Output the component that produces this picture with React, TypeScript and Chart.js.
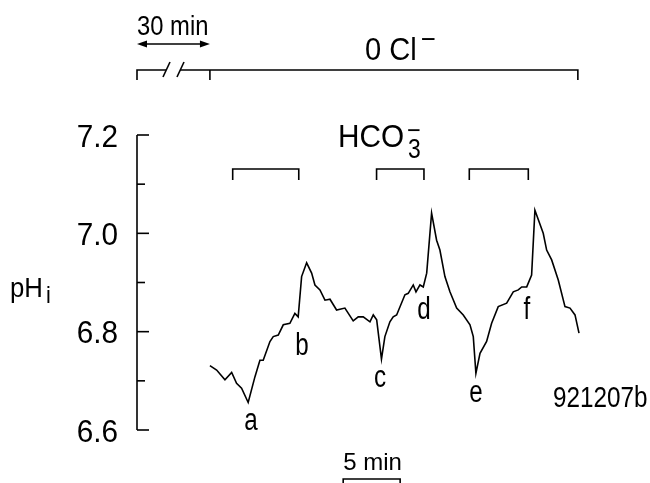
import React, { useEffect, useRef } from "react";
import { Chart, registerables } from "chart.js";

Chart.register(...registerables);

// time (min, from start of trace) and intracellular pH
const timeMin = [
  0, 0.59, 1.32, 1.91, 2.34, 2.78, 3.36, 3.95, 4.39, 4.68, 5.27, 5.56, 6.0, 6.44, 7.02, 7.46, 7.75,
  8.05, 8.49, 8.93, 9.22, 9.66, 10.1, 10.54, 11.12, 11.85, 12.58, 13.02, 13.46, 14.05, 14.34, 14.64,
  15.06, 15.36, 15.8, 16.09, 16.39, 17.12, 17.41, 17.85, 18.09, 18.44, 18.73, 19.03, 19.46, 19.9,
  20.19, 20.63, 21.07, 21.66, 22.24, 22.83, 23.12, 23.35, 23.71, 24.29, 24.73, 25.31, 26.05, 26.63,
  27.07, 27.37, 27.81, 28.24, 28.53, 29.26, 29.56, 30.0, 30.58, 31.17, 31.61, 32.05, 32.4,
];
const phValues = [
  6.731, 6.722, 6.702, 6.717, 6.695, 6.685, 6.656, 6.708, 6.742, 6.742, 6.78, 6.79, 6.793, 6.814,
  6.817, 6.837, 6.83, 6.912, 6.94, 6.919, 6.895, 6.885, 6.864, 6.866, 6.844, 6.848, 6.822, 6.83,
  6.83, 6.82, 6.834, 6.824, 6.744, 6.79, 6.82, 6.83, 6.834, 6.875, 6.878, 6.895, 6.881, 6.895,
  6.891, 6.919, 7.041, 6.986, 6.966, 6.912, 6.881, 6.848, 6.834, 6.814, 6.79, 6.715, 6.756, 6.78,
  6.817, 6.851, 6.858, 6.881, 6.885, 6.891, 6.891, 6.915, 7.047, 7.0, 6.966, 6.946, 6.905, 6.851,
  6.848, 6.834, 6.797,
];

// axis range
const xMin = -6.4;
const xMax = 32.4;
const yMin = 6.6;
const yMax = 7.2;
const yStep = 0.1;

// HCO3- application periods (min)
const hco3Start = [2.0, 14.63, 22.77];
const hco3End = [7.8, 18.79, 27.95];

// 0 Cl- period: break region then continuous from 0 to end
const clBarEnd = 32.3;

// event labels
const eventLabels = ["a", "b", "c", "d", "e", "f"];
const eventTime = [3.6, 8.08, 14.93, 18.79, 23.35, 27.83];
const eventPh = [6.6, 6.753, 6.688, 6.826, 6.657, 6.826];

const scaleBarStart = 11.7;
const scaleBarLen = 5;

const FONT = '"Liberation Sans", Arial, "Helvetica", sans-serif';

function txt(
  ctx: CanvasRenderingContext2D,
  s: string,
  x: number,
  y: number,
  size: number,
  sx: number,
  align: "left" | "center" | "right" = "left"
) {
  ctx.save();
  ctx.font = `${size}px ${FONT}`;
  ctx.textBaseline = "alphabetic";
  ctx.textAlign = "left";
  const w = ctx.measureText(s).width * sx;
  const left = align === "center" ? x - w / 2 : align === "right" ? x - w : x;
  ctx.translate(left, y);
  ctx.scale(sx, 1);
  ctx.fillStyle = "#000";
  ctx.fillText(s, 0, 0);
  ctx.restore();
}

function line(ctx: CanvasRenderingContext2D, pts: number[][]) {
  ctx.beginPath();
  ctx.moveTo(pts[0][0], pts[0][1]);
  for (let i = 1; i < pts.length; i++) ctx.lineTo(pts[i][0], pts[i][1]);
  ctx.stroke();
}

const annotationPlugin = {
  id: "annot",
  afterDraw(chart: any) {
    const ctx: CanvasRenderingContext2D = chart.ctx;
    const xs = chart.scales.x;
    const ys = chart.scales.y;
    const area = chart.chartArea;
    ctx.save();
    ctx.strokeStyle = "#000";
    ctx.fillStyle = "#000";
    ctx.lineWidth = 1.6;
    ctx.lineCap = "butt";

    // y axis line
    line(ctx, [
      [area.left, ys.getPixelForValue(yMax)],
      [area.left, ys.getPixelForValue(yMin)],
    ]);
    // ticks (inward) and labels
    ys.ticks.forEach((t: any) => {
      const v = t.value;
      const py = ys.getPixelForValue(v);
      const major = Math.round(v * 10) % 2 === 0;
      line(ctx, [
        [area.left, py],
        [area.left + (major ? 12 : 8), py],
      ]);
      if (major) txt(ctx, v.toFixed(1), area.left - 19, py + 11.5, 32, 0.93, "right");
    });

    // y title pH_i
    txt(ctx, "pH", 10, 297, 28, 0.92, "left");
    txt(ctx, "i", 46, 303, 24, 0.9, "left");

    // 0 Cl- bar
    const yBar = 70;
    const x0 = xs.getPixelForValue(0);
    const xEnd = xs.getPixelForValue(clBarEnd);
    const xl = area.left;
    line(ctx, [
      [xl, yBar + 10],
      [xl, yBar],
      [166, yBar],
    ]);
    line(ctx, [
      [180, yBar],
      [xEnd, yBar],
      [xEnd, yBar + 10],
    ]);
    line(ctx, [
      [x0, yBar],
      [x0, yBar + 10],
    ]);
    line(ctx, [
      [163, yBar + 7],
      [170, yBar - 8],
    ]);
    line(ctx, [
      [177, yBar + 7],
      [184, yBar - 8],
    ]);
    txt(ctx, "0 Cl", 365, 60, 32, 0.91, "left");
    txt(ctx, "\u2212", 421, 48, 27, 0.95, "left");

    // 30 min arrow
    const ya = 44;
    line(ctx, [
      [xl + 4, ya],
      [x0 - 4, ya],
    ]);
    ctx.beginPath();
    ctx.moveTo(xl, ya);
    ctx.lineTo(xl + 10, ya - 3.5);
    ctx.lineTo(xl + 10, ya + 3.5);
    ctx.closePath();
    ctx.fill();
    ctx.beginPath();
    ctx.moveTo(x0, ya);
    ctx.lineTo(x0 - 10, ya - 3.5);
    ctx.lineTo(x0 - 10, ya + 3.5);
    ctx.closePath();
    ctx.fill();
    txt(ctx, "30 min", xl, 35, 28, 0.85, "left");

    // HCO3- brackets
    const yB = 169;
    for (let i = 0; i < hco3Start.length; i++) {
      const a = xs.getPixelForValue(hco3Start[i]);
      const b = xs.getPixelForValue(hco3End[i]);
      line(ctx, [
        [a, yB + 11],
        [a, yB],
        [b, yB],
        [b, yB + 11],
      ]);
    }
    txt(ctx, "HCO", 338, 147, 32, 0.93, "left");
    txt(ctx, "3", 408, 158, 27, 0.85, "left");
    txt(ctx, "\u2212", 407, 139, 26, 0.9, "left");

    // event letters
    for (let i = 0; i < eventLabels.length; i++) {
      txt(
        ctx,
        eventLabels[i],
        xs.getPixelForValue(eventTime[i]),
        ys.getPixelForValue(eventPh[i]),
        31,
        0.78,
        "center"
      );
    }
    txt(ctx, "921207b", 553, 407, 30, 0.81, "left");

    // 5 min scale bar
    const s0 = xs.getPixelForValue(scaleBarStart);
    const s1 = xs.getPixelForValue(scaleBarStart + scaleBarLen);
    line(ctx, [
      [s0, 490],
      [s0, 479],
      [s1, 479],
      [s1, 490],
    ]);
    txt(ctx, "5 min", s0, 470, 24, 1.0, "left");

    ctx.restore();
  },
};

export default function App() {
  const ref = useRef<HTMLCanvasElement | null>(null);
  useEffect(() => {
    if (!ref.current) return;
    const points = timeMin.map((t, i) => ({ x: t, y: phValues[i] }));
    const chart = new Chart(ref.current, {
      type: "line",
      data: {
        datasets: [
          {
            data: points,
            borderColor: "#000",
            borderWidth: 1.6,
            pointRadius: 0,
            tension: 0,
            fill: false,
            clip: false as any,
          },
        ],
      },
      options: {
        animation: false,
        responsive: false,
        layout: { padding: { left: 137, right: 71, top: 135, bottom: 53 } },
        plugins: { legend: { display: false }, tooltip: { enabled: false } },
        scales: {
          x: { type: "linear", min: xMin, max: xMax, display: false },
          y: { type: "linear", min: yMin, max: yMax, ticks: { stepSize: yStep }, display: false },
        },
      },
      plugins: [annotationPlugin],
    });
    return () => chart.destroy();
  }, []);
  return (
    <div style={{ position: "fixed", left: 0, top: 0, width: 650, height: 483, background: "#fff" }}>
      <canvas ref={ref} width={650} height={483} style={{ display: "block" }} />
    </div>
  );
}
